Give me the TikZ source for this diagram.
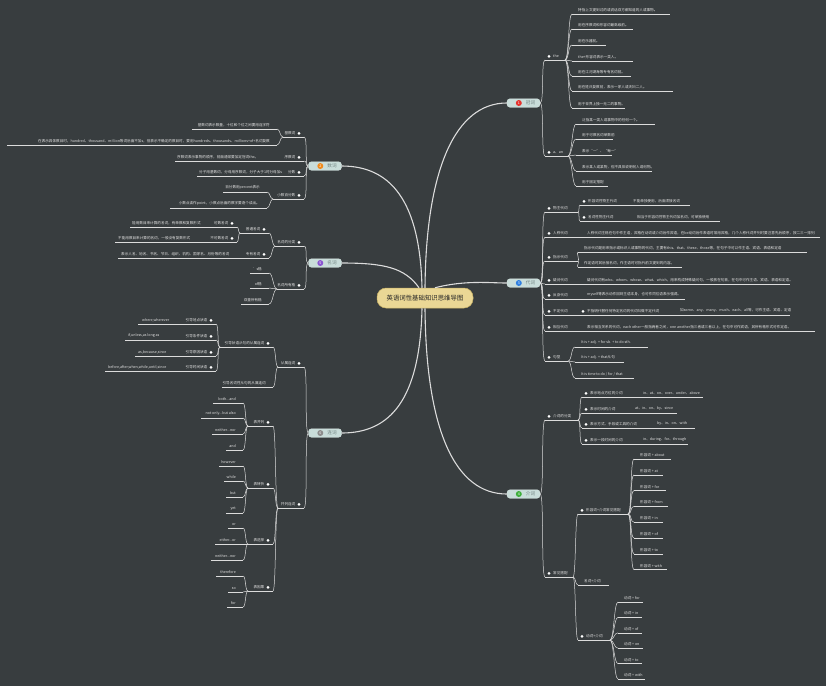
\documentclass[tikz,border=0pt]{standalone}
\usepackage{fontspec}
\setmainfont{Noto Sans CJK SC}
\usetikzlibrary{calc}

\definecolor{bgc}{HTML}{383D3F}
\definecolor{lnc}{HTML}{DCDCDC}
\definecolor{txc}{HTML}{E2E2E2}
\definecolor{boxc}{HTML}{C9DDDA}
\definecolor{boxt}{HTML}{728482}
\definecolor{ctrc}{HTML}{EAD795}
\definecolor{ctrd}{HTML}{C9B365}
\definecolor{bred}{HTML}{E5322D}
\definecolor{bora}{HTML}{F08A1C}
\definecolor{bblu}{HTML}{2F7FE0}
\definecolor{bgrn}{HTML}{3DAE3A}
\definecolor{bpur}{HTML}{8A55D0}
\definecolor{bgry}{HTML}{8C8C8C}

\newcommand\tfont{\fontsize{3.6pt}{4.3pt}\selectfont}
\newcommand\mfont{\fontsize{4.6pt}{5.5pt}\selectfont}
\newcommand\cfont{\fontsize{6.4pt}{7.5pt}\selectfont}

\tikzset{
  ul/.style={draw=lnc, line width=.5pt},
  conn/.style={draw=lnc, line width=.5pt},
  trunk/.style={draw=lnc, line width=1.1pt},
  tx/.style={inner xsep=0pt, inner ysep=2pt, text=txc, font=\tfont},
  dotc/.style={fill=white},
  br/.style={to path={.. controls +(#1,0) and +(-#1,0) .. (\tikztotarget) \tikztonodes}},
  br/.default=5,
  mainb/.style={rounded corners=3pt, fill=boxc, draw=boxc!70!white, line width=.4pt, minimum width=33pt, minimum height=8.5pt, inner sep=0pt, font=\mfont, text=boxt},
  badge/.style={circle, inner sep=0pt, minimum size=6pt, text=white, font=\fontsize{3.6pt}{4pt}\selectfont},
  ctrbox/.style={rounded corners=9pt, fill=ctrc, draw=ctrd, line width=.5pt, minimum width=96pt, minimum height=20pt, font=\cfont, text=black!85},
}

\newcommand\rtp[5]{%
  \draw[ul] (#2,#4) coordinate (#1) -- (#3,#4) coordinate (#1-f);
  \node[tx,anchor=south west] (#1-t) at (#2+6,#4) {#5};}
\newcommand\rdt[5]{%
  \draw[ul] (#2,#4) coordinate (#1) -- (#3,#4) coordinate (#1-f);
  \fill[dotc] (#2+4,#4-3.6) circle (1.5pt);
  \node[tx,anchor=south west] (#1-t) at (#2+8,#4) {#5};}
\newcommand\ltp[5]{%
  \draw[ul] (#3,#4) coordinate (#1) -- (#2,#4) coordinate (#1-f);
  \node[tx,anchor=south east] (#1-t) at (#3-7,#4) {#5};}
\newcommand\ldt[5]{%
  \draw[ul] (#3,#4) coordinate (#1) -- (#2,#4) coordinate (#1-f);
  \fill[dotc] (#3-5,#4-3.6) circle (1.5pt);
  \node[tx,anchor=south east] (#1-t) at (#3-8.5,#4) {#5};}
\newcommand\dsc[4]{\node[tx,anchor=south west] (#1) at (#2,#3) {#4};}

\begin{document}
\begin{tikzpicture}[x=1pt,y=-1pt]
\fill[bgc] (0,0) rectangle (826,686);
\useasboundingbox (0,0) rectangle (826,686);

\node[ctrbox] (ctr) at (425,298) {英语词性基础知识思维导图};
\node[mainb] (gc) at (523.5,103) {\hspace{14pt}冠词};
\node[mainb] (dc) at (523.5,283) {\hspace{14pt}代词};
\node[mainb] (jc) at (523.5,494) {\hspace{14pt}介词};
\node[mainb] (sc) at (325,166) {\hspace{14pt}数词};
\node[mainb] (mc) at (325,263) {\hspace{14pt}名词};
\node[mainb] (lc) at (325,433) {\hspace{14pt}连词};
\foreach \n/\c/\k in {gc/bred/1,sc/bora/2,dc/bblu/3,jc/bgrn/4,mc/bpur/5,lc/bgry/6}
  \node[badge,fill=\c] (\n-b) at ([xshift=12]\n.west) {\k};

\draw[trunk] (ctr.north) .. controls (426,170) and (455,103) .. (gc.west);
\draw[trunk] ([xshift=10]ctr.north) .. controls (465,280) and (490,283) .. (dc.west);
\draw[trunk] (ctr.south) .. controls (426,430) and (455,494) .. (jc.west);
\draw[trunk] ([xshift=-3]ctr.north) .. controls (420,200) and (390,166) .. (sc.east);
\draw[trunk] ([xshift=-6]ctr.north) .. controls (405,268) and (385,263) .. (mc.east);
\draw[trunk] ([xshift=-3]ctr.south) .. controls (420,400) and (390,433) .. (lc.east);

\rdt{the}{545}{565}{60}{the}
\rtp{t1}{572}{670}{14}{特指上文提到过的或说话双方都知道的人或事物。}
\rtp{t2}{572}{633}{29}{用在序数词和形容词最高级前。}
\rtp{t3}{572}{606}{45}{用在乐器前。}
\rtp{t4}{572}{633}{61}{the+形容词表示一类人。}
\rtp{t5}{572}{631}{76}{用在江河湖海等专有名词前。}
\rtp{t6}{572}{673}{91}{用在姓氏复数前，表示一家人或夫妇二人。}
\rtp{t7}{572}{625}{108}{用于世界上独一无二的事物。}
\rdt{an}{545}{568}{156}{a、an}
\rtp{a1}{576}{655}{124}{泛指某一类人或事物中的任何一个。}
\rtp{a2}{576}{613}{139}{用于可数名词单数前}
\rtp{a3}{576}{612}{155}{表示“一”、“每一”}
\rtp{a4}{576}{652}{171}{表示某人或某物，但不具体说明何人或何物。}
\rtp{a5}{576}{608}{186}{用于固定搭配}
\foreach \c in {the,an} \draw[conn] (gc.east) to[br=4] (\c);
\foreach \c in {t1,t2,t3,t4,t5,t6,t7} \draw[conn] (the-f) to[br=4] (\c);
\foreach \c in {a1,a2,a3,a4,a5} \draw[conn] (an-f) to[br=4] (\c);

\rdt{wz}{545}{578}{212}{物主代词}
\rdt{wz1}{580}{690}{205}{形容词性物主代词}
\dsc{wz1d}{633}{205}{不能单独使用，后面须接名词}
\rdt{wz2}{580}{720}{221}{名词性物主代词}
\dsc{wz2d}{637}{221}{相当于形容词性物主代词加名词，可单独使用}
\rdt{rc}{545}{820}{237}{人称代词}
\dsc{rcd}{587}{237}{人称代词主格在句中作主语，宾格在动词或介词后作宾语，在be动词后作表语时常用宾格，几个人称代词并列时要注意先后顺序，按二三一排列}
\rdt{zs}{545}{578}{261}{指示代词}
\rtp{zs1}{578}{807}{252}{指示代词是用来指示或标识人或事物的代词，主要有this、that、these、those等，在句子中可以作主语、宾语、表语和定语}
\rtp{zs2}{578}{682}{267}{作定语时其后接名词，作主语时可指代前文提到的内容。}
\rdt{yw}{545}{790}{284}{疑问代词}
\dsc{ywd}{587}{284}{疑问代词有who、whom、whose、what、which，用来构成特殊疑问句，一般放在句首，在句中可作主语、宾语、表语和定语。}
\rdt{fs}{545}{685}{299}{反身代词}
\dsc{fsd}{587}{299}{myself等表示动作回到主语本身，也可作同位语表示强调。}
\rdt{bd}{545}{579}{315}{不定代词}
\rdt{bdc}{579}{790}{315}{不指明代替任何特定名词的代词叫做不定代词}
\dsc{bdd}{680}{315}{如some、any、many、much、each、all等，可作主语、宾语、定语}
\rdt{xh}{545}{815}{331}{相互代词}
\dsc{xhd}{587}{331}{表示相互关系的代词，each other一般指两者之间，one another指三者或三者以上，在句中可作宾语，其所有格形式可作定语。}
\rdt{jx}{545}{568}{361}{句型}
\rtp{jx1}{575}{648}{347}{It is + adj. + for sb. + to do sth.}
\rtp{jx2}{575}{624}{362}{It is + adj. + that从句}
\rtp{jx3}{575}{634}{378}{It is time to do / for / that}
\foreach \c in {wz,rc,zs,yw,fs,bd,xh,jx} \draw[conn] (dc.east) to[br=4] (\c);
\foreach \c in {wz1,wz2} \draw[conn] (wz-f) to[br=2] (\c);
\foreach \c in {zs1,zs2} \draw[conn] (zs-f) to[br=2] (\c);
\draw[conn] (bd-f) -- (bdc);
\foreach \c in {jx1,jx2,jx3} \draw[conn] (jx-f) to[br=4] (\c);

\rdt{fl}{545}{578}{420}{介词的分类}
\rdt{fl1}{582}{703}{397}{表示地点方位的介词}
\dsc{fl1d}{643}{397}{in、at、on、over、under、above}
\rdt{fl2}{582}{677}{413}{表示时间的介词}
\dsc{fl2d}{635}{413}{at、in、on、by、since}
\rdt{fl3}{582}{695}{428}{表示方式、手段或工具的介词}
\dsc{fl3d}{657}{428}{by、in、on、with}
\rdt{fl4}{582}{688}{444}{表示一段时间的介词}
\dsc{fl4d}{643}{444}{in、during、for、through}
\rdt{dp}{545}{573}{577}{常见搭配}
\rdt{dp1}{578}{628}{514}{形容词+介词常见搭配}
\rtp{dp2}{578}{609}{585}{名词+介词}
\rdt{dp3}{578}{610}{640}{动词+介词}
\foreach \p/\e [count=\i] in {about/671,at/663,for/666,from/668,in/663,of/663,to/663,with/667}{
  \pgfmathsetmacro\yy{459+15.8*(\i-1)}
  \rtp{ad\i}{634}{\e}{\yy}{形容词 + \p}
  \draw[conn] (dp1-f) to[br=4] (ad\i);}
\foreach \p/\e [count=\i] in {for/643,in/642,of/642,on/643,to/642,with/645}{
  \pgfmathsetmacro\yy{602+15.4*(\i-1)}
  \rtp{vb\i}{618}{\e}{\yy}{动词 + \p}
  \draw[conn] (dp3-f) to[br=4] (vb\i);}
\foreach \c in {fl,dp} \draw[conn] (jc.east) to[br=4] (\c);
\foreach \c in {fl1,fl2,fl3,fl4} \draw[conn] (fl-f) to[br=3] (\c);
\foreach \c in {dp1,dp2,dp3} \draw[conn] (dp-f) to[br=3] (\c);

\ldt{js}{283}{304}{137}{基数词}
\ltp{js1}{192}{277}{129}{基数词表示数量，十位和个位之间要用连字符}
\ltp{js2}{7}{277}{145}{在表示具体数目时，hundred、thousand、million等词后面不加s，但表示不确定的数目时，要用hundreds、thousands、millions+of+名词复数}
\ldt{xs}{175}{304}{161}{序数词}
\dsc{xsd}{177}{161}{序数词表示事物的顺序，前面通常要加定冠词the。}
\ldt{fsh}{197}{304}{176}{分数}
\dsc{fshd}{199}{176}{分子用基数词，分母用序数词，分子大于1时分母加s}
\ldt{xb}{273}{304}{199}{小数百分数}
\ltp{xb1}{223}{267}{192}{百分数用percent表示}
\ltp{xb2}{170}{267}{208}{小数点读作point，小数点后面的数字要逐个读出。}
\foreach \c in {js,xs,fsh,xb} \draw[conn] (sc.west) to[br=-4] (\c);
\foreach \c in {js1,js2} \draw[conn] (js-f) to[br=-3] (\c);
\foreach \c in {xb1,xb2} \draw[conn] (xb-f) to[br=-3] (\c);

\ldt{mf}{275}{304}{246}{名词的分类}
\ldt{pt}{240}{269}{233}{普通名词}
\ldt{ks}{130}{237}{227}{可数名词}
\dsc{ksd}{132}{227}{能用数目来计算的名词，有单数和复数形式}
\ldt{bk}{115}{237}{242}{不可数名词}
\dsc{bkd}{118}{242}{不能用数目来计算的名词，一般没有复数形式}
\ldt{zy}{118}{269}{258}{专有名词}
\dsc{zyd}{121}{258}{表示人名、地名、书名、节日、组织、机构、国家名、月份等的名词}
\ldt{sy}{277}{304}{289}{名词所有格}
\ltp{sy1}{250}{269}{273}{'s格}
\ltp{sy2}{250}{269}{288}{of格}
\ltp{sy3}{241}{269}{304}{双重所有格}
\foreach \c in {mf,sy} \draw[conn] (mc.west) to[br=-4] (\c);
\foreach \c in {pt,zy} \draw[conn] (mf-f) to[br=-3] (\c);
\foreach \c in {ks,bk} \draw[conn] (pt-f) to[br=-2] (\c);
\foreach \c in {sy1,sy2,sy3} \draw[conn] (sy-f) to[br=-4] (\c);

\ldt{cs}{278}{304}{367}{从属连词}
\ldt{zz}{220}{273}{347}{引导状语从句的从属连词}
\ldt{dd}{138}{216}{324}{引导地点状语}
\dsc{ddd}{142}{324}{where,wherever}
\ldt{tj}{125}{216}{340}{引导条件状语}
\dsc{tjd}{128}{340}{if,unless,as long as}
\ldt{yy}{135}{216}{356}{引导原因状语}
\dsc{yyd}{138}{356}{as,because,since}
\ldt{sj}{105}{216}{371}{引导时间状语}
\dsc{sjd}{108}{371}{before,after,when,while,until,since}
\ltp{mx}{222}{273}{387}{引导名词性从句的从属连词}
\ldt{bl}{278}{304}{508}{并列连词}
\ldt{bl1}{248}{273}{426}{表并列}
\ltp{c1}{213}{243}{403}{both...and}
\ltp{c2}{201}{243}{418}{not only...but also}
\ltp{c3}{212}{243}{434}{neither...nor}
\ltp{c4}{226}{243}{450}{and}
\ldt{bl2}{248}{273}{488}{表转折}
\ltp{e1}{219}{243}{466}{however}
\ltp{e2}{224}{243}{481}{while}
\ltp{e3}{226}{243}{497}{but}
\ltp{e4}{226}{243}{513}{yet}
\ldt{bl3}{248}{273}{544}{表选择}
\ltp{f1}{228}{243}{528}{or}
\ltp{f2}{215}{243}{544}{either...or}
\ltp{f3}{211}{243}{560}{neither...nor}
\ldt{bl4}{248}{273}{591}{表因果}
\ltp{g1}{216}{243}{576}{therefore}
\ltp{g2}{228}{243}{592}{so}
\ltp{g3}{227}{243}{607}{for}
\foreach \c in {cs,bl} \draw[conn] (lc.west) to[br=-4] (\c);
\foreach \c in {zz,mx} \draw[conn] (cs-f) to[br=-3] (\c);
\foreach \c in {dd,tj,yy,sj} \draw[conn] (zz-f) to[br=-3] (\c);
\foreach \c in {bl1,bl2,bl3,bl4} \draw[conn] (bl-f) to[br=-3] (\c);
\foreach \c in {c1,c2,c3,c4} \draw[conn] (bl1-f) to[br=-3] (\c);
\foreach \c in {e1,e2,e3,e4} \draw[conn] (bl2-f) to[br=-3] (\c);
\foreach \c in {f1,f2,f3} \draw[conn] (bl3-f) to[br=-3] (\c);
\foreach \c in {g1,g2,g3} \draw[conn] (bl4-f) to[br=-3] (\c);
\end{tikzpicture}
\end{document}
